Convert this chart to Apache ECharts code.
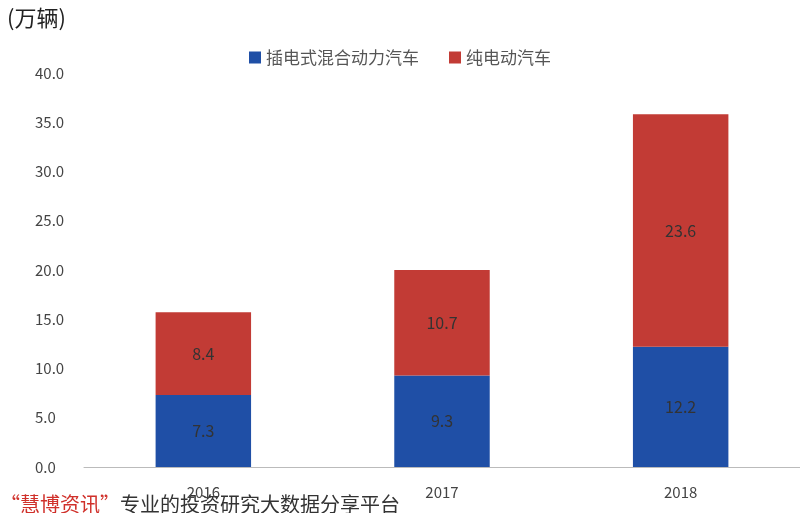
<!DOCTYPE html>
<html>
<head>
<meta charset="utf-8">
<script src="https://cdn.jsdelivr.net/npm/echarts@6/dist/echarts.min.js"></script>
<style>html,body{margin:0;padding:0;background:#fff}#main{width:800px;height:513px}</style>
</head>
<body>
<div id="main"></div>
<script>
var years = ['2016', '2017', '2018'];
var phev = [7.3, 9.3, 12.2];
var bev = [8.4, 10.7, 23.6];
var yTicks = [0, 5, 10, 15, 20, 25, 30, 35, 40];

var chart = echarts.init(document.getElementById('main'));
var font = '"Noto Sans CJK SC", sans-serif';
chart.setOption({
    textStyle: {fontFamily: font},
    title: {
        text: '(万辆)', left: 2, top: 2,
        textStyle: {fontSize: 22, fontWeight: 'normal', color: '#222', fontFamily: font}
    },
    legend: {
        data: ['插电式混合动力汽车', '纯电动汽车'],
        top: 44, left: 'center', itemWidth: 12, itemHeight: 12, itemGap: 30,
        icon: 'rect',
        textStyle: {fontSize: 17, color: '#555'}
    },
    grid: {left: 84, right: -6, top: 73, bottom: 46},
    xAxis: {
        type: 'category', data: years,
        axisTick: {show: false},
        axisLine: {lineStyle: {color: '#bbb'}},
        axisLabel: {fontSize: 15, color: '#444', margin: 18}
    },
    yAxis: {
        type: 'value', min: yTicks[0], max: yTicks[yTicks.length - 1], interval: 5,
        splitLine: {show: false},
        axisLabel: {fontSize: 15, color: '#444', margin: 49, align: 'left',
            formatter: function (v) { return v.toFixed(1); }}
    },
    series: [{
        name: '插电式混合动力汽车', type: 'bar', stack: 'a', barWidth: '40%',
        data: phev,
        itemStyle: {color: '#1f4fa6'},
        label: {show: true, color: '#333', fontSize: 16, formatter: function (p) { return p.value.toFixed(1); }}
    }, {
        name: '纯电动汽车', type: 'bar', stack: 'a',
        data: bev,
        itemStyle: {color: '#c23b35'},
        label: {show: true, color: '#333', fontSize: 16, formatter: function (p) { return p.value.toFixed(1); }}
    }],
    graphic: [{
        type: 'text', left: 0, top: 494,
        style: {
            text: '{r|“慧博资讯”}专业的投资研究大数据分享平台',
            font: '20px ' + font, fill: '#333',
            rich: {r: {fill: '#d0302a', font: '20px ' + font}}
        }
    }]
});
</script>
</body>
</html>
